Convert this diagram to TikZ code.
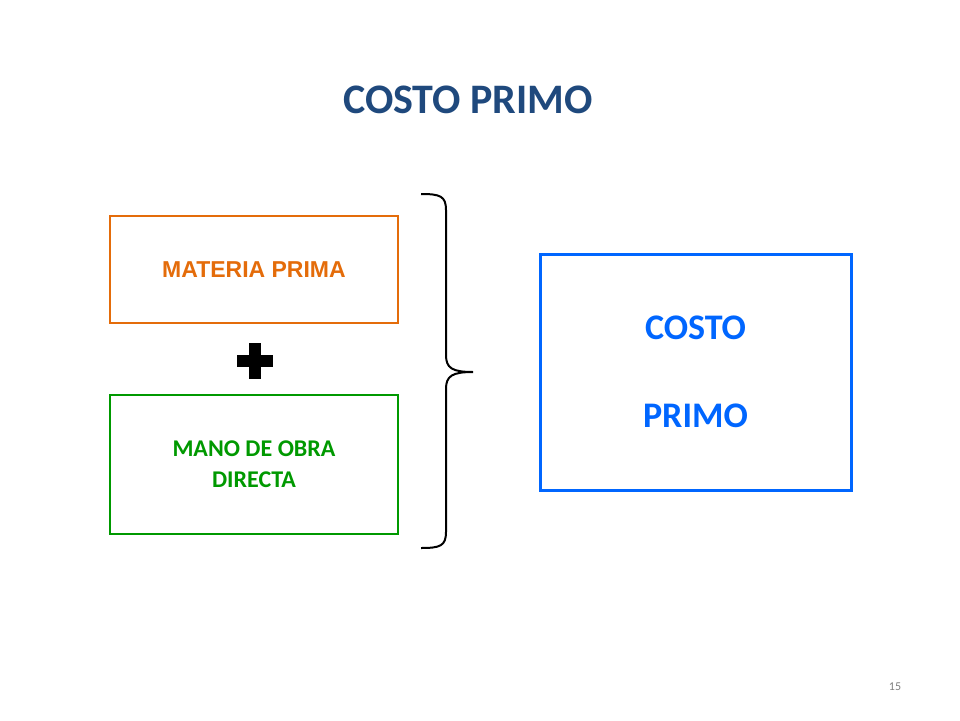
\documentclass[tikz,border=0pt]{standalone}
\usepackage{fontspec}
\setmainfont{Carlito}
\newfontfamily\arialf{Liberation Sans}
\definecolor{titleblue}{RGB}{31,73,125}
\definecolor{orng}{RGB}{228,108,10}
\definecolor{grn}{RGB}{0,153,0}
\definecolor{blu}{RGB}{0,102,255}
\begin{document}
\begin{tikzpicture}[x=1pt,y=-1pt,
  box/.style={draw,line width=2.2pt,minimum width=288pt,align=center,inner sep=0pt}]
\useasboundingbox[fill=white] (0,0) rectangle (960,720);
\node[font=\fontsize{42}{48}\selectfont\bfseries,text=titleblue] (title) at (468,100) {COSTO PRIMO};
\node[box,draw=orng,minimum height=107pt,font=\arialf\fontsize{23}{27}\selectfont\bfseries,text=orng] (mp) at (254,269.5) {MATERIA PRIMA};
\node[box,draw=grn,minimum height=139pt,font=\fontsize{24}{31}\selectfont\bfseries,text=grn] (mo) at (254,464.5) {MANO DE OBRA\\DIRECTA};
\node[box,draw=blu,line width=3pt,minimum width=311pt,minimum height=236pt,font=\fontsize{36}{88}\selectfont\bfseries,text=blu] (cp) at (695.5,372) {COSTO\\PRIMO};
\node (plus) at (255,361) {};
\fill (249,343) rectangle (261,379);
\fill (237,355) rectangle (273,367);
\coordinate (btop) at (421,194);
\coordinate (bbot) at (421,548);
\coordinate (btip) at (473,372);
\draw[line width=2pt] (btop) .. controls (440,194) and (446,196) .. (446,210) -- (446,355) .. controls (446,368) and (452,372) .. (btip) .. controls (452,372) and (446,376) .. (446,389) -- (446,532) .. controls (446,546) and (440,548) .. (bbot);
\node[font=\fontsize{12}{14}\selectfont,text=gray] (pg) at (895,687) {15};
\end{tikzpicture}
\end{document}
